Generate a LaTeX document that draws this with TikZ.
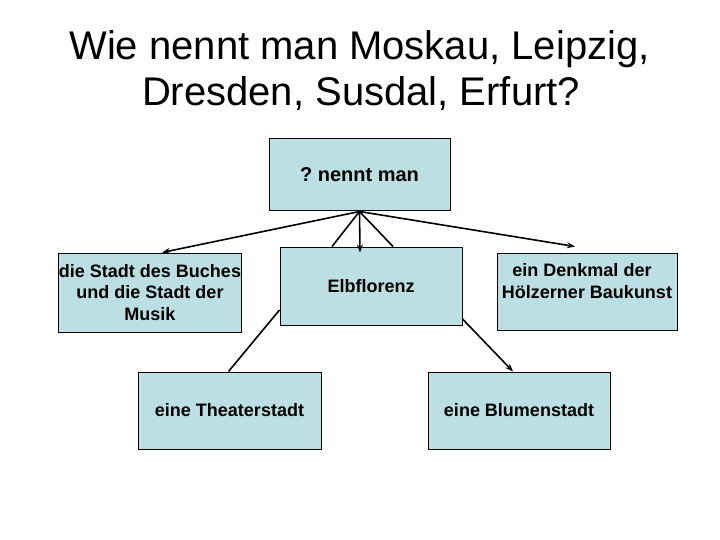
\documentclass[tikz,border=0pt]{standalone}
\usepackage{fontspec}
\setmainfont{Liberation Sans}
\usetikzlibrary{arrows.meta}
\frenchspacing
\definecolor{boxfill}{RGB}{187,223,227}
\tikzset{
  box/.style={draw=black, line width=1pt, fill=boxfill, inner sep=0pt, align=center,
    font=\fontsize{18}{21.6}\selectfont\bfseries},
  conn/.style={draw=black, line width=1.6pt},
  arr/.style={conn, -{Stealth[length=8pt,width=6pt]}},
  ttl/.style={font=\fontsize{40}{46}\selectfont, align=center, inner sep=0pt}
}
\begin{document}
\begin{tikzpicture}[x=1pt,y=-1pt]
\useasboundingbox (0,0) rectangle (720,540);
\fill[white] (0,0) rectangle (720,540);
\node[ttl, anchor=base] (t1) at (359.5,59.5) {Wie nennt man Moskau, Leipzig,};
\node[ttl, anchor=base] (t2) at (361,105.5) {Dresden, Susdal, Erfurt?};
\node[box, minimum width=181pt, minimum height=72pt, font=\fontsize{20}{24}\selectfont\bfseries] (top) at (359.5,175) {\frenchspacing ? nennt man};
\node[box, minimum width=182pt, minimum height=79pt] (lb) at (150,292.5) {die Stadt des Buches\\und die Stadt der\\Musik};
\node[box, minimum width=182pt, minimum height=78pt] (mid) at (371,286) {Elbflorenz};
\node[box, minimum width=180pt, minimum height=77pt] (rb) at (587,291.5) {ein Denkmal der\hspace*{10pt}\\Hölzerner Baukunst\\\mbox{}};
\node[box, minimum width=183pt, minimum height=77pt] (th) at (229.5,410.5) {eine Theaterstadt};
\node[box, minimum width=182pt, minimum height=77pt] (bl) at (519,410.5) {eine Blumenstadt};
\coordinate (hub) at (top.south);
\draw[arr] (hub) -- ([xshift=12pt]lb.north);
\draw[arr] (hub) -- ([xshift=-11pt,yshift=-6pt]mid.north);
\draw[conn] (hub) -- ([xshift=-39pt]mid.north);
\draw[conn] (hub) -- ([xshift=22pt]mid.north);
\draw[arr] (hub) -- ([xshift=-12pt,yshift=6pt]rb.north);
\draw[conn] ([yshift=-24pt]mid.west) -- ([xshift=-1pt]th.north);
\draw[arr] ([yshift=-33pt]mid.east) -- ([xshift=-6pt]bl.north);
\end{tikzpicture}
\end{document}
